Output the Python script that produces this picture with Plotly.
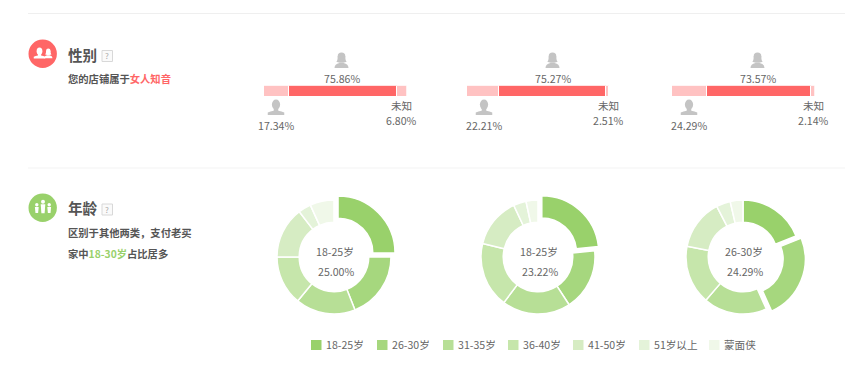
import plotly.graph_objects as go

# ---------- data ----------
gender_labels = ["男", "女", "未知"]
gender_panels = ["店铺A", "店铺B", "店铺C"]
male_share = [17.34, 22.21, 24.29]
female_share = [75.86, 75.27, 73.57]
unknown_share = [6.80, 2.51, 2.14]

age_groups = ["18-25岁", "26-30岁", "31-35岁", "36-40岁", "41-50岁", "51岁以上", "蒙面侠"]
age_a = [25.00, 19.0, 17.0, 14.0, 14.6, 3.6, 6.8]
age_b = [23.22, 17.6, 19.4, 18.6, 14.2, 3.6, 3.38]
age_c = [19.0, 24.29, 18.0, 16.7, 14.4, 4.0, 3.61]
age_pull_a = [0.1, 0, 0, 0, 0, 0, 0]
age_pull_b = [0.1, 0, 0, 0, 0, 0, 0]
age_pull_c = [0, 0.1, 0, 0, 0, 0, 0]
center_labels = ["18-25岁", "18-25岁", "26-30岁"]
center_values = ["25.00%", "23.22%", "24.29%"]
age_colors = ["#99d16b", "#a6d77e", "#b7df96", "#c6e6ab", "#d6ecc3", "#e4f3d9", "#f0f8e9"]

W, H = 865, 381
FONT = "Noto Sans CJK SC"
GRAY = "#666666"
DARK = "#555555"
RED = "#ff6666"
PINK = "#ffc2c2"
GREEN = "#99d16b"
ICON = "#c4c4c4"

fig = go.Figure()
shapes, annos = [], []

def text(x, y, s, size=10.6, color=GRAY, anchor="center"):
    annos.append(dict(x=x, y=y - 0.7, xref="x", yref="y", text=s, showarrow=False,
                      xanchor=anchor, yanchor="middle", borderpad=0,
                      font=dict(family=FONT, size=size, color=color)))

def path(d, fill, line=None):
    shapes.append(dict(type="path", path=d, xref="x", yref="y",
                       fillcolor=fill, line=dict(width=0) if line is None else line))

def circle(cx, cy, r, fill):
    shapes.append(dict(type="circle", xref="x", yref="y", x0=cx - r, x1=cx + r,
                       y0=cy - r, y1=cy + r, fillcolor=fill, line=dict(width=0)))

def rect(x0, y0, x1, y1, fill, line=None):
    shapes.append(dict(type="rect", xref="x", yref="y", x0=x0, x1=x1, y0=y0, y1=y1,
                       fillcolor=fill, line=dict(width=0) if line is None else line))

def person(cx, top, w, h, fill):
    """bust icon: oval head, narrow neck, wide shoulders"""
    rx, ry = w * 0.25, h * 0.33
    shapes.append(dict(type="circle", xref="x", yref="y", x0=cx - rx, x1=cx + rx,
                       y0=top, y1=top + 2 * ry, fillcolor=fill, line=dict(width=0)))
    b = top + h
    n = top + h * 0.55
    s = top + h * 0.76
    path(f"M{cx - w/2},{b} L{cx - w/2},{s + h*0.08} Q{cx - w*0.35},{s} {cx - w*0.14},{s - h*0.04} "
         f"L{cx - w*0.13},{n} L{cx + w*0.13},{n} L{cx + w*0.14},{s - h*0.04} "
         f"Q{cx + w*0.35},{s} {cx + w/2},{s + h*0.08} L{cx + w/2},{b} Z", fill)

def woman(cx, top, w, h, fill):
    """bust icon with hair that flares out at the neck"""
    hr = w * 0.27
    circle(cx, top + hr, hr, fill)
    path(f"M{cx - hr},{top + hr} Q{cx - hr},{top + h*0.55} {cx - w*0.38},{top + h*0.6} "
         f"L{cx - w*0.12},{top + h*0.66} L{cx + w*0.12},{top + h*0.66} "
         f"L{cx + w*0.38},{top + h*0.6} Q{cx + hr},{top + h*0.55} {cx + hr},{top + hr} Z", fill)
    b = top + h
    s = top + h * 0.68
    path(f"M{cx - w/2},{b} Q{cx - w/2},{s + h*0.06} {cx - w*0.15},{s} L{cx + w*0.15},{s} "
         f"Q{cx + w/2},{s + h*0.06} {cx + w/2},{b} Z", fill)

# dividers
rect(28, 13, 845, 14, "#efefef")
rect(28, 167.5, 845, 168.5, "#f3f3f3")

# section headers
circle(42.7, 53.7, 14.2, RED)
circle(42.7, 207.7, 14.2, GREEN)
woman(48.3, 48.5, 8.2, 9.8, "#ffffff")
person(39.5, 47.5, 11.5, 11, "#ffffff")
for cx, top, hh, hr, hw in ((43, 199.7, 13.5, 2.0, 2.3), (36.8, 203, 10, 1.7, 1.9), (49.2, 203, 10, 1.7, 1.9)):
    circle(cx, top + hr, hr, "#ffffff")
    path(f"M{cx-hw},{top+hr*2+0.6} L{cx+hw},{top+hr*2+0.6} L{cx+hw*0.7},{top+hh} L{cx-hw*0.7},{top+hh} Z", "#ffffff")

for y0, title in ((47.5, "性别"), (201, "年龄")):
    text(67.2, y0 + 7.2, f"<b>{title}</b>", size=14.6, color=DARK, anchor="left")
    rect(102, y0 + 3, 112.5, y0 + 14, "#fafafa", dict(color="#d8d8d8", width=1))
    text(107.3, y0 + 9, "?", size=8, color="#aaaaaa")

text(67.2, 79, f"<b>您的店铺属于<span style='color:{RED}'>女人知音</span></b>", size=10.3, color=DARK, anchor="left")
text(67.2, 233.5, "<b>区别于其他两类，支付老买</b>", size=10.3, color=DARK, anchor="left")
text(67.2, 254, f"<b>家中<span style='color:{GREEN}'>18-30岁</span>占比居多</b>", size=10.3, color=DARK, anchor="left")

# gender bars
bar_left = [264, 467, 672]
bar_w = 142.5
female_x = [341.5, 552.5, 757.5]
male_x = [276, 484, 689]
unknown_x = [401.7, 608.7, 813]
for i in range(3):
    n = i + 2
    xa, ya = f"x{n}", f"y{n}"
    for vals, col, name in ((male_share, PINK, gender_labels[0]),
                            (female_share, RED, gender_labels[1]),
                            (unknown_share, PINK, gender_labels[2])):
        fig.add_trace(go.Bar(y=[gender_panels[i]], x=[vals[i]], orientation="h", name=name,
                             marker=dict(color=col, line=dict(color="#ffffff", width=1)),
                             xaxis=xa, yaxis=ya, showlegend=False, width=1))
    fig.update_layout({
        f"xaxis{n}": dict(domain=[bar_left[i] / W, (bar_left[i] + bar_w) / W], range=[0, 100],
                          visible=False, anchor=ya),
        f"yaxis{n}": dict(domain=[1 - 97 / H, 1 - 85.7 / H], range=[-0.5, 0.5], visible=False,
                          anchor=xa),
    })
    woman(female_x[i], 52.5, 14, 15.5, ICON)
    person(male_x[i], 99.5, 16.5, 15.5, ICON)
    text(female_x[i] + 0.5, 79, f"{female_share[i]:.2f}%")
    text(male_x[i], 126.5, f"{male_share[i]:.2f}%")
    text(unknown_x[i], 106.5, gender_labels[2])
    text(unknown_x[i], 120.7, f"{unknown_share[i]:.2f}%")

# age donuts
cxs = [334, 538, 743]
cy = 257
R = 57
for i, (vals, pull) in enumerate(((age_a, age_pull_a), (age_b, age_pull_b), (age_c, age_pull_c))):
    half = R * (1 + max(pull))
    fig.add_trace(go.Pie(labels=age_groups, values=vals, pull=pull, hole=0.61, sort=False,
                         direction="clockwise", rotation=0, textinfo="none", hoverinfo="label+percent",
                         marker=dict(colors=age_colors, line=dict(color="#ffffff", width=1.5)),
                         domain=dict(x=[(cxs[i] - half) / W, (cxs[i] + half) / W],
                                     y=[1 - (cy + half) / H, 1 - (cy - half) / H]),
                         showlegend=False))
    text(cxs[i] + 1, 252, center_labels[i])
    text(cxs[i] + 2, 272, center_values[i])

# legend
leg_x = [311, 377, 443, 508, 573, 639, 709]
for x, label, col in zip(leg_x, age_groups, age_colors):
    rect(x, 340, x + 10.5, 350, col)
    text(x + 14, 345, label, anchor="left")

fig.update_layout(
    width=W, height=H, margin=dict(l=0, r=0, t=0, b=0), autosize=False,
    paper_bgcolor="#ffffff", plot_bgcolor="rgba(0,0,0,0)", barmode="stack", bargap=0,
    xaxis=dict(domain=[0, 1], range=[0, W], visible=False, fixedrange=True),
    yaxis=dict(domain=[0, 1], range=[H, 0], visible=False, fixedrange=True),
    shapes=shapes, annotations=annos, showlegend=False,
    font=dict(family=FONT),
)
# anchor trace so that the full-page pixel axes exist
fig.add_trace(go.Scatter(x=[0, W], y=[0, H], mode="markers", marker=dict(opacity=0), hoverinfo="skip",
                         showlegend=False, xaxis="x", yaxis="y"))

fig.write_html("out.html", config={"displayModeBar": False},
               post_script="document.body.style.margin='0';document.documentElement.style.overflow='hidden';")
